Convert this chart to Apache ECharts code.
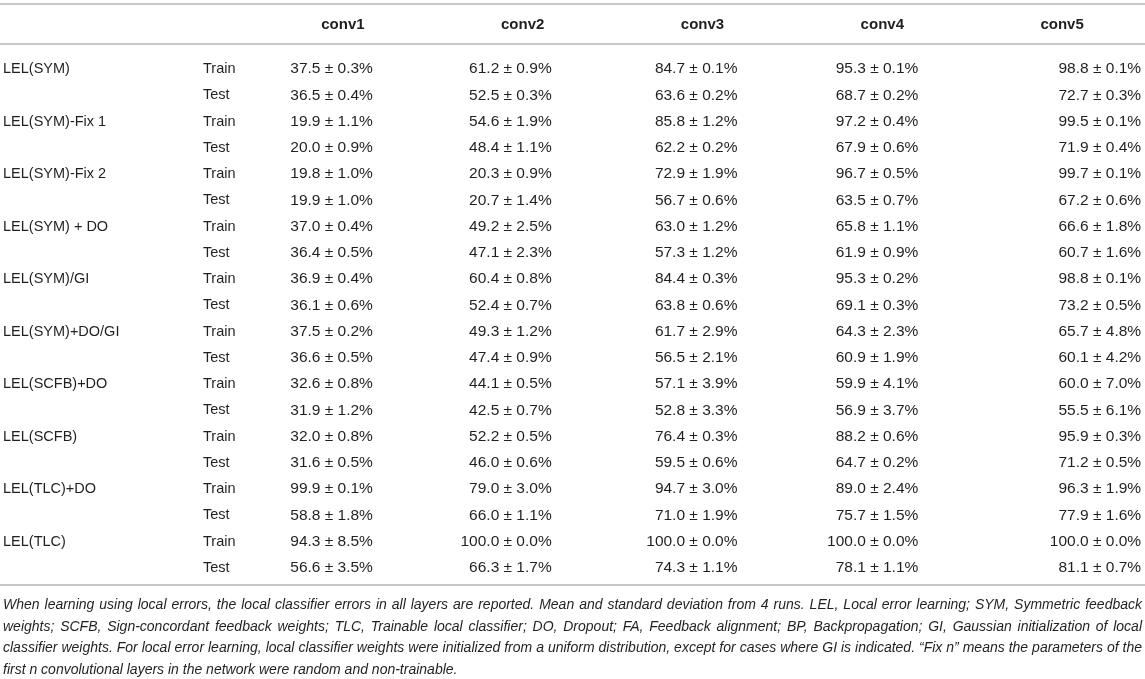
<!DOCTYPE html>
<html>
<head>
<meta charset="utf-8">
<script src="https://cdn.jsdelivr.net/npm/echarts@6/dist/echarts.min.js"></script>
<style>
html, body { margin: 0; padding: 0; background: #fff; }
#main { width: 1145px; height: 679px; }
</style>
</head>
<body>
<div id="main"></div>
<script>
// table data
var columns = ['conv1', 'conv2', 'conv3', 'conv4', 'conv5'];
var models = ['LEL(SYM)', 'LEL(SYM)-Fix 1', 'LEL(SYM)-Fix 2', 'LEL(SYM) + DO', 'LEL(SYM)/GI',
  'LEL(SYM)+DO/GI', 'LEL(SCFB)+DO', 'LEL(SCFB)', 'LEL(TLC)+DO', 'LEL(TLC)'];
var splits = ['Train', 'Test'];
// mean error per row (train, test for each model), one value per conv layer
var means = [
  [37.5, 61.2, 84.7, 95.3, 98.8], [36.5, 52.5, 63.6, 68.7, 72.7],
  [19.9, 54.6, 85.8, 97.2, 99.5], [20.0, 48.4, 62.2, 67.9, 71.9],
  [19.8, 20.3, 72.9, 96.7, 99.7], [19.9, 20.7, 56.7, 63.5, 67.2],
  [37.0, 49.2, 63.0, 65.8, 66.6], [36.4, 47.1, 57.3, 61.9, 60.7],
  [36.9, 60.4, 84.4, 95.3, 98.8], [36.1, 52.4, 63.8, 69.1, 73.2],
  [37.5, 49.3, 61.7, 64.3, 65.7], [36.6, 47.4, 56.5, 60.9, 60.1],
  [32.6, 44.1, 57.1, 59.9, 60.0], [31.9, 42.5, 52.8, 56.9, 55.5],
  [32.0, 52.2, 76.4, 88.2, 95.9], [31.6, 46.0, 59.5, 64.7, 71.2],
  [99.9, 79.0, 94.7, 89.0, 96.3], [58.8, 66.0, 71.0, 75.7, 77.9],
  [94.3, 100.0, 100.0, 100.0, 100.0], [56.6, 66.3, 74.3, 78.1, 81.1]
];
var stds = [
  [0.3, 0.9, 0.1, 0.1, 0.1], [0.4, 0.3, 0.2, 0.2, 0.3],
  [1.1, 1.9, 1.2, 0.4, 0.1], [0.9, 1.1, 0.2, 0.6, 0.4],
  [1.0, 0.9, 1.9, 0.5, 0.1], [1.0, 1.4, 0.6, 0.7, 0.6],
  [0.4, 2.5, 1.2, 1.1, 1.8], [0.5, 2.3, 1.2, 0.9, 1.6],
  [0.4, 0.8, 0.3, 0.2, 0.1], [0.6, 0.7, 0.6, 0.3, 0.5],
  [0.2, 1.2, 2.9, 2.3, 4.8], [0.5, 0.9, 2.1, 1.9, 4.2],
  [0.8, 0.5, 3.9, 4.1, 7.0], [1.2, 0.7, 3.3, 3.7, 6.1],
  [0.8, 0.5, 0.3, 0.6, 0.3], [0.5, 0.6, 0.6, 0.2, 0.5],
  [0.1, 3.0, 3.0, 2.4, 1.9], [1.8, 1.1, 1.9, 1.5, 1.6],
  [8.5, 0.0, 0.0, 0.0, 0.0], [3.5, 1.7, 1.1, 1.1, 0.7]
];
var notes = [
  'When learning using local errors, the local classifier errors in all layers are reported. Mean and standard deviation from 4 runs. LEL, Local error learning; SYM, Symmetric feedback',
  'weights; SCFB, Sign-concordant feedback weights; TLC, Trainable local classifier; DO, Dropout; FA, Feedback alignment; BP, Backpropagation; GI, Gaussian initialization of local',
  'classifier weights. For local error learning, local classifier weights were initialized from a uniform distribution, except for cases where GI is indicated. \u201cFix n\u201d means the parameters of the',
  'first n convolutional layers in the network were random and non-trainable.'
];

var FONT = '"Liberation Sans", Arial, Helvetica, sans-serif';
var NOTE_FONT = 'italic 14px ' + FONT;
var INK = '#231f20';
var RULE = '#b4b4b4';
var rightPad = [30, 29, 35, 36, 79]; // right edge of the values, measured from the column centre

var rowKeys = [], cells = [];
means.forEach(function (row, r) {
  rowKeys.push(String(r));
  row.forEach(function (m, c) {
    cells.push([c, r, m, stds[r][c]]);
  });
});

// footnote is justified: spread the words of every line but the last across the width
var ctx = document.createElement('canvas').getContext('2d');
ctx.font = NOTE_FONT;
var noteLeft = 3, noteRight = 1142;
var noteEls = [];
notes.forEach(function (line, i) {
  var y = 605 + i * 21.7;
  var words = line.split(' ');
  var widths = words.map(function (w) { return ctx.measureText(w).width; });
  var total = widths.reduce(function (a, b) { return a + b; }, 0);
  var last = i === notes.length - 1;
  var gap = last ? ctx.measureText(' ').width : (noteRight - noteLeft - total) / (words.length - 1);
  var x = noteLeft;
  words.forEach(function (w, k) {
    noteEls.push({
      type: 'text', x: x, y: y,
      style: { text: w, font: NOTE_FONT, fill: INK, textVerticalAlign: 'middle', verticalAlign: 'middle' }
    });
    x += widths[k] + gap;
  });
});

var chart = echarts.init(document.getElementById('main'));
chart.setOption({
  animation: false,
  textStyle: { fontFamily: FONT },
  grid: { left: 253, top: 56, width: 899, height: 525, outerBoundsMode: 'none', containLabel: false },
  xAxis: {
    type: 'category', data: columns, position: 'top',
    axisLine: { show: false }, axisTick: { show: false }, splitLine: { show: false },
    axisLabel: { margin: 24, fontSize: 15, fontWeight: 'bold', color: INK, fontFamily: FONT }
  },
  yAxis: [{
    type: 'category', data: rowKeys, inverse: true, position: 'left',
    axisLine: { show: false }, axisTick: { show: false }, splitLine: { show: false },
    axisLabel: {
      interval: 0, align: 'left', verticalAlign: 'middle', margin: 250, fontSize: 14.5, color: INK, fontFamily: FONT,
      formatter: function (v) { var i = +v; return i % 2 === 0 ? models[i / 2] : ''; }
    }
  }, {
    type: 'category', data: rowKeys, inverse: true, position: 'left',
    axisLine: { show: false }, axisTick: { show: false }, splitLine: { show: false },
    axisLabel: {
      interval: 0, align: 'left', verticalAlign: 'middle', margin: 50, fontSize: 14.5, color: INK, fontFamily: FONT,
      formatter: function (v) { return splits[(+v) % 2]; }
    }
  }],
  series: [{
    type: 'custom',
    coordinateSystem: 'cartesian2d',
    clip: false,
    data: cells,
    renderItem: function (params, api) {
      var c = api.value(0);
      var p = api.coord([c, api.value(1)]);
      return {
        type: 'text',
        x: p[0] + rightPad[c],
        y: p[1],
        style: {
          text: api.value(2).toFixed(1) + ' \u00b1 ' + api.value(3).toFixed(1) + '%',
          textAlign: 'right', align: 'right',
          textVerticalAlign: 'middle', verticalAlign: 'middle',
          font: '15.5px ' + FONT,
          fill: INK
        }
      };
    }
  }],
  graphic: [
    { type: 'line', shape: { x1: 0, y1: 4, x2: 1145, y2: 4 }, style: { stroke: RULE, lineWidth: 1.5 } },
    { type: 'line', shape: { x1: 0, y1: 44, x2: 1145, y2: 44 }, style: { stroke: RULE, lineWidth: 1.5 } },
    { type: 'line', shape: { x1: 0, y1: 585, x2: 1145, y2: 585 }, style: { stroke: RULE, lineWidth: 1.5 } }
  ].concat(noteEls)
});
</script>
</body>
</html>
